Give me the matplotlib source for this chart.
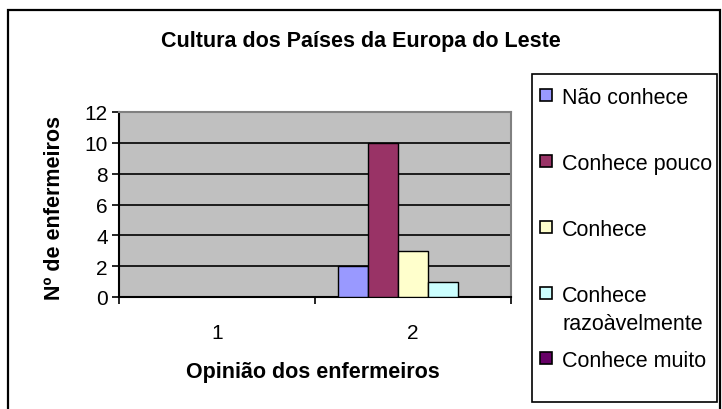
"""Cultura dos Paises da Europa do Leste - bar chart recreation."""

import matplotlib.pyplot as plt
from matplotlib.patches import Rectangle
import numpy as np

plt.rcParams["font.family"] = ["Liberation Sans", "DejaVu Sans"]

categories = ["1", "2"]
series = ["Não conhece", "Conhece pouco", "Conhece", "Conhece\nrazoàvelmente", "Conhece muito"]
values = [
    [0, 2],   # Não conhece
    [0, 10],  # Conhece pouco
    [0, 3],   # Conhece
    [0, 1],   # Conhece razoàvelmente
    [0, 0],   # Conhece muito
]
colors = ["#9999FF", "#993366", "#FFFFCC", "#CCFFFF", "#660066"]
yticks = [0, 2, 4, 6, 8, 10, 12]

W, H = 722, 410
fig = plt.figure(figsize=(W / 100, H / 100), dpi=100)


def fx(px):
    return px / W


def fy(py):
    return 1 - py / H


# outer chart border
fig.patches.append(Rectangle((fx(8), fy(440)), fx(712), (440 - 11) / H, transform=fig.transFigure,
                             fill=False, edgecolor="black", linewidth=1.6, clip_on=False))

ax = fig.add_axes([fx(119), fy(298), fx(392), (298 - 113) / H])
ax.set_facecolor("#C0C0C0")

x = np.arange(1, len(categories) + 1)
bw = 0.153
for i, (name, vals) in enumerate(zip(series, values)):
    ax.bar(x + (i - 2) * bw, vals, width=bw, color=colors[i], edgecolor="black", linewidth=1.0, zorder=3)

ax.set_ylim(0, 12)
ax.set_xlim(0.5, len(categories) + 0.5)
ax.set_yticks(yticks)
ax.set_yticklabels([str(v) for v in yticks], fontsize=15)
ax.set_xticks(np.arange(0.5, len(categories) + 1, 1.0))
ax.set_xticklabels([])
ax.set_xticks(x, minor=True)
ax.set_xticklabels(categories, minor=True, fontsize=15)
ax.tick_params(axis="x", which="minor", length=0, pad=19)
ax.tick_params(axis="x", which="major", direction="out", length=5, width=1.2)
ax.tick_params(axis="y", direction="out", length=5, width=1.2, pad=3)
for v in yticks[1:-1]:
    ax.axhline(v, color="black", linewidth=1.2, zorder=1)
ax.spines["left"].set_linewidth(1.5)
ax.spines["bottom"].set_linewidth(1.5)
ax.spines["top"].set_color("#808080")
ax.spines["right"].set_color("#808080")
ax.spines["top"].set_linewidth(1.5)
ax.spines["right"].set_linewidth(1.5)

fig.text(fx(361), fy(42), "Cultura dos Países da Europa do Leste", ha="center", va="center",
         fontsize=15.5, fontweight="bold")
fig.text(fx(55), fy(208), "Nº de enfermeiros", ha="center", va="center", rotation=90,
         fontsize=15.5, fontweight="bold")
fig.text(fx(313), fy(373), "Opinião dos enfermeiros", ha="center", va="center",
         fontsize=15.5, fontweight="bold")

# legend box, drawn by hand to keep Excel's uneven entry spacing
fig.patches.append(Rectangle((fx(532), fy(403)), fx(185), (403 - 75) / H, transform=fig.transFigure,
                             fill=True, facecolor="white", edgecolor="black", linewidth=1.2))
baselines = [104, 170, 236, 302, 367]
for name, c, base in zip(series, colors, baselines):
    fig.patches.append(Rectangle((fx(540), fy(base - 2)), fx(12), 12 / H, transform=fig.transFigure,
                                 facecolor=c, edgecolor="black", linewidth=1.2))
    for k, line in enumerate(name.split("\n")):
        fig.text(fx(562), fy(base + 28 * k), line, ha="left", va="baseline", fontsize=15.5)

fig.savefig("out.png", dpi=100)
